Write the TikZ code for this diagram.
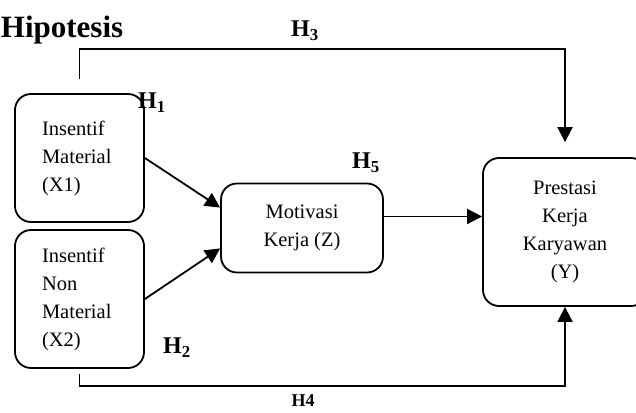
\documentclass[tikz,border=0pt]{standalone}
\usepackage{fontspec}
\setmainfont{Liberation Serif}
\usetikzlibrary{arrows.meta,positioning}

\begin{document}
\begin{tikzpicture}
[x=1pt,y=-1pt,->,>={Triangle[length=15pt,width=15pt]},line width=1.8pt]
  \tikzset{var/.style={draw=black,rounded corners=16pt,align=center,inner sep=0pt,
      font=\fontsize{20.5}{28}\selectfont},
    hyp/.style={inner sep=0pt,font=\bfseries\fontsize{24}{24}\selectfont}}
  \useasboundingbox (0,0) rectangle (636,412);

  \node[var,minimum width=129pt,minimum height=128pt,text width=75pt,align=left] (X1) at (79.5,158) {Insentif\\Material\\(X1)};
  \node[var,minimum width=129pt,minimum height=138pt,text width=75pt,align=left] (X2) at (79.5,299) {Insentif\\Non\\Material\\(X2)};
  \node[var,minimum width=162pt,minimum height=89pt] (Z) at (302,228) {Motivasi\\Kerja (Z)};
  \node[var,minimum width=164pt,minimum height=148pt] (Y) at (565,232) {Prestasi\\Kerja\\Karyawan\\(Y)};

  \node[inner sep=0pt,anchor=west,font=\bfseries\fontsize{31}{31}\selectfont] (title) at (0,30) {Hipotesis};
  \node[hyp] (lblH1) at (152,103) {H\textsubscript{1}};
  \node[hyp] (lblH2) at (177,348) {H\textsubscript{2}};
  \node[hyp] (lblH3) at (305,31) {H\textsubscript{3}};
  \node[hyp,font=\bfseries\fontsize{18}{18}\selectfont] (lblH4) at (303,401) {H4};
  \node[hyp] (lblH5) at (366,163) {H\textsubscript{5}};

  \path (X1.east) edge (Z.166)
        (X2.east) edge (Z.194)
        (Z.8)     edge (Z.8 -| Y.west);
  \draw[shorten >=15pt] ([yshift=14pt]X1.north) -- ([yshift=44pt]X1.north) -| (Y.north);
  \draw ([yshift=-5pt]X2.south) -- ([yshift=-17pt]X2.south) -| (Y.south);
\end{tikzpicture}
\end{document}
